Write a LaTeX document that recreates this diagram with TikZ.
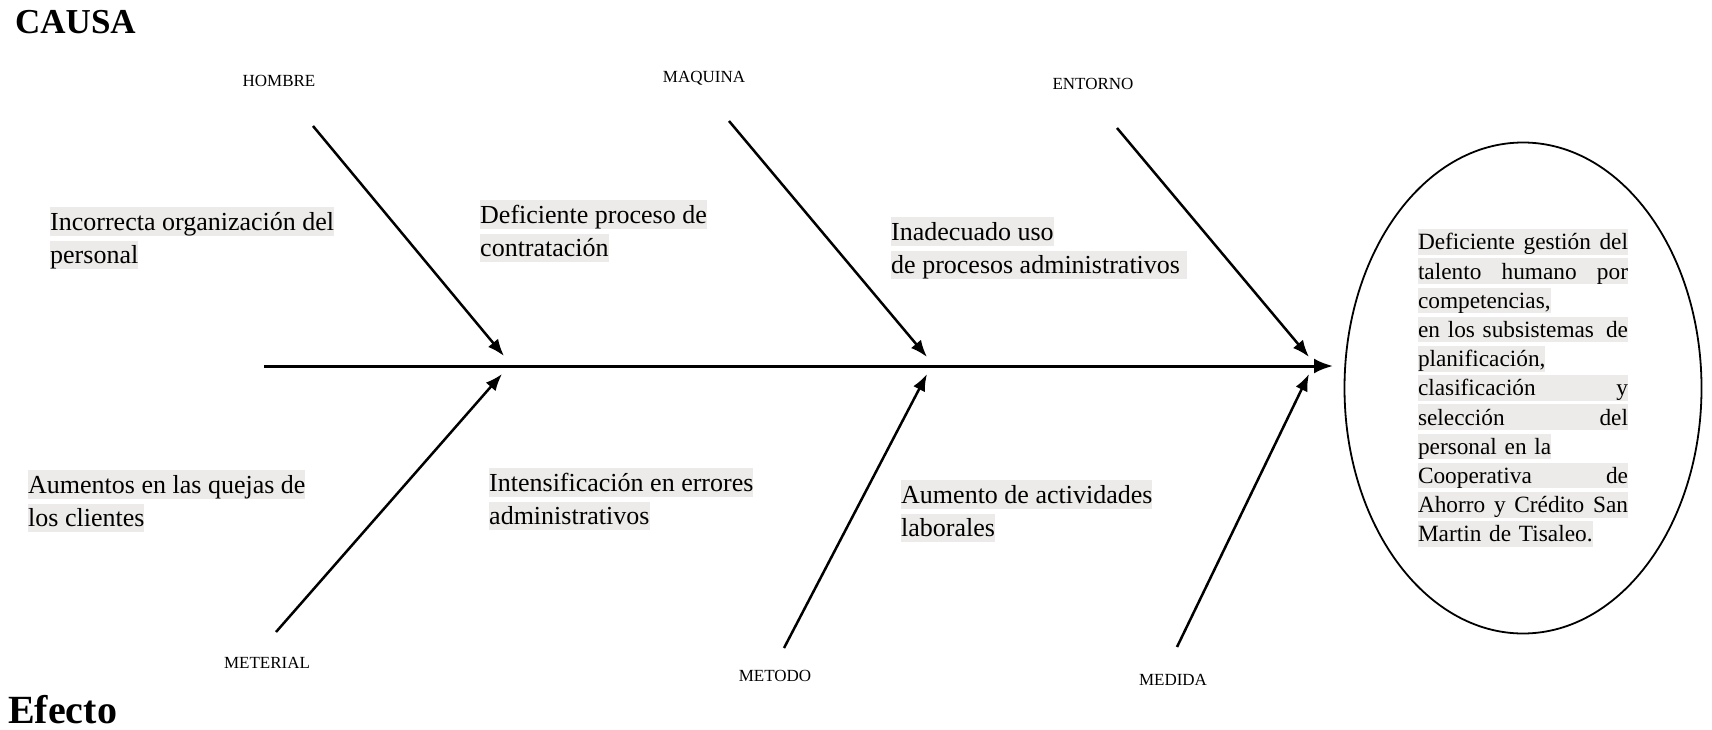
\documentclass[tikz,border=0pt]{standalone}
\usepackage{fontspec}
\setmainfont{Liberation Serif}
\usepackage{tikz}
\usetikzlibrary{arrows.meta,shapes.geometric}
\definecolor{hlgray}{RGB}{237,235,233}
\newcommand{\hlbox}[1]{{\setlength{\fboxsep}{0pt}\colorbox{hlgray}{\rule[-0.216em]{0pt}{1.107em}#1}}}
\newcommand{\fullline}[1]{\hlbox{\makebox[210pt]{#1}}}

\begin{document}
\begin{tikzpicture}[x=1pt,y=-1pt,
		title/.style={font=\bfseries\fontsize{35}{40}\selectfont,inner sep=0pt,anchor=base west},
		cause/.style={font=\fontsize{26}{33.5}\selectfont,align=left,inner sep=0pt,anchor=north west},
		branch/.style={font=\fontsize{17}{20}\selectfont,inner sep=0pt,anchor=base},
		bone/.style={line width=2.5pt,-{Latex[length=17pt,width=13pt]}}]
		\useasboundingbox (0,0) rectangle (1712,730);
		\node[title] (causa) at (15,34) {CAUSA};
		\node[title,font=\bfseries\fontsize{40}{44}\selectfont] (efecto) at (8,723) {Efecto};
		% espina
		\coordinate (spineL) at (264,366);
		\coordinate (spineR) at (1333,366);
		\draw[bone,line width=3pt,-{Latex[length=19pt,width=15pt]}] (spineL) -- (spineR);
		\node[draw,ellipse,line width=1.8pt,minimum width=357pt,minimum height=491pt,inner sep=0pt,
			align=left,text width=210pt,font=\fontsize{23.3}{29.2}\selectfont] (problema) at (1523,388) {%
			\fullline{Deficiente\hfill gestión\hfill del}\\
			\fullline{talento\hfill humano\hfill por}\\
			\hlbox{competencias,}\\
			\fullline{en los subsistemas\hfill de}\\
			\hlbox{planificación,}\\
			\fullline{clasificación\hfill y}\\
			\fullline{selección\hfill del}\\
			\hlbox{personal en la}\\
			\fullline{Cooperativa\hfill de}\\
			\fullline{Ahorro\hfill y\hfill Crédito\hfill San}\\
			\hlbox{Martin de Tisaleo.}};
		% categorias
		\node[branch] (hombre) at (279,87) {HOMBRE};
		\node[branch] (maquina) at (704,83) {MAQUINA};
		\node[branch] (entorno) at (1093,90) {ENTORNO};
		\node[branch] (material) at (267,668) {METERIAL};
		\node[branch] (metodo) at (775,681) {METODO};
		\node[branch] (medida) at (1173,685) {MEDIDA};
		\coordinate (hombreT) at (313,126);   \coordinate (hombreH) at (504,356);
		\coordinate (maquinaT) at (729,121);  \coordinate (maquinaH) at (927,357);
		\coordinate (entornoT) at (1117,128); \coordinate (entornoH) at (1309,357);
		\coordinate (materialT) at (276,632); \coordinate (materialH) at (502,374);
		\coordinate (metodoT) at (784,648);   \coordinate (metodoH) at (927,374);
		\coordinate (medidaT) at (1177,647);  \coordinate (medidaH) at (1309,374);
		\draw[bone] (hombreT) -- (hombreH);
		\draw[bone] (maquinaT) -- (maquinaH);
		\draw[bone] (entornoT) -- (entornoH);
		\draw[bone] (materialT) -- (materialH);
		\draw[bone] (metodoT) -- (metodoH);
		\draw[bone] (medidaT) -- (medidaH);
		% causas
		\node[cause] (organizacion) at (50,207) {\hlbox{Incorrecta organización del}\\\hlbox{personal}};
		\node[cause] (contratacion) at (480,200) {\hlbox{Deficiente proceso de}\\\hlbox{contratación}};
		\node[cause] (procesos) at (891,217) {\hlbox{Inadecuado uso}\\\hlbox{de procesos administrativos\ }};
		\node[cause] (quejas) at (28,470) {\hlbox{Aumentos en las quejas de}\\\hlbox{los clientes}};
		\node[cause] (errores) at (489,468) {\hlbox{Intensificación en errores}\\\hlbox{administrativos}};
		\node[cause] (actividades) at (901,480) {\hlbox{Aumento de actividades}\\\hlbox{laborales}};
	\end{tikzpicture}
\end{document}
